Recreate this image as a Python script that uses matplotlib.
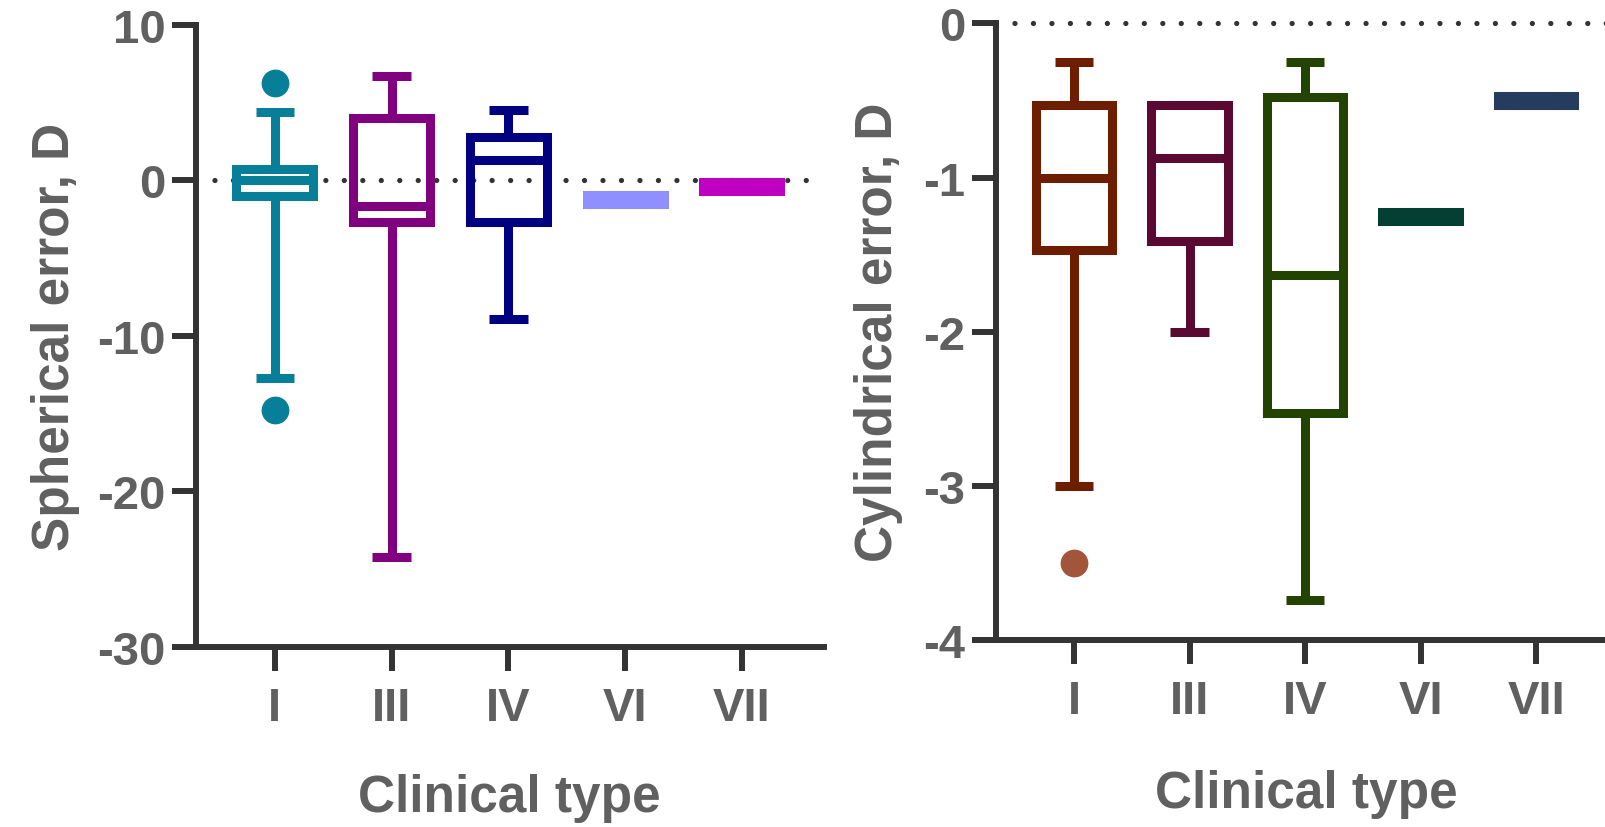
import matplotlib.pyplot as plt

plt.rcParams['font.family'] = ['Liberation Sans', 'DejaVu Sans']
plt.rcParams['axes.unicode_minus'] = False

types = ['I', 'III', 'IV', 'VI', 'VII']

# spherical error (D)
sph_whislo = [-12.7, -24.2, -8.95, -1.55, -0.7]
sph_q1 = [-1.0, -2.68, -2.68, -1.55, -0.7]
sph_med = [0.0, -1.66, 1.29, -1.25, -0.4]
sph_q3 = [0.7, 3.97, 2.8, -0.95, -0.1]
sph_whishi = [4.4, 6.7, 4.5, -0.95, -0.1]
sph_fliers = [[6.27, -14.75], [], [], [], []]
sph_colors = ['#077f99', '#800080', '#000080', '#8f8fff', '#c000c0']
sph_flier_colors = ['#077f99', '#800080', '#000080', '#8f8fff', '#c000c0']

# cylindrical error (D)
cyl_whislo = [-3.0, -2.0, -3.74, -1.28, -0.53]
cyl_q1 = [-1.47, -1.41, -2.53, -1.28, -0.53]
cyl_med = [-1.0, -0.87, -1.63, -1.25, -0.5]
cyl_q3 = [-0.53, -0.53, -0.475, -1.22, -0.47]
cyl_whishi = [-0.25, -0.53, -0.25, -1.22, -0.47]
cyl_fliers = [[-3.5], [], [], [], []]
cyl_colors = ['#6e1e00', '#5a0a32', '#234300', '#053f33', '#263c5e']
cyl_flier_colors = ['#a3553b', '#5a0a32', '#234300', '#053f33', '#263c5e']

TEXT = '#606060'
AXC = '#333333'
LW = 6.5


def draw(ax, whislo, q1, med, q3, whishi, fliers, colors, fcolors,
         ylim, yticks, ylabel, ylab_x, xlab_y):
    stats = []
    for i in range(len(types)):
        stats.append(dict(label=types[i], whislo=whislo[i], q1=q1[i], med=med[i],
                          q3=q3[i], whishi=whishi[i], fliers=fliers[i]))
    pos = list(range(1, len(types) + 1))

    # dotted reference line at zero
    ax.axhline(0, color=AXC, lw=3.8, ls=(0, (0.001, 3.5)),
               dash_capstyle='round', zorder=1, clip_on=False)

    art = ax.bxp(stats, positions=pos, widths=0.66, capwidths=0.33,
                 boxprops=dict(lw=LW, solid_joinstyle='miter'),
                 whiskerprops=dict(lw=LW, solid_capstyle='butt'),
                 capprops=dict(lw=LW, solid_capstyle='butt'),
                 medianprops=dict(lw=LW, solid_capstyle='butt'),
                 flierprops=dict(marker='o', markersize=20, markeredgewidth=0),
                 manage_ticks=False)
    for i, c in enumerate(colors):
        art['boxes'][i].set_color(c)
        art['medians'][i].set_color(c)
        for j in (2 * i, 2 * i + 1):
            art['whiskers'][j].set_color(c)
            art['caps'][j].set_color(c)
        art['fliers'][i].set_markerfacecolor(fcolors[i])
    for k in ('boxes', 'medians', 'whiskers', 'caps', 'fliers'):
        for a in art[k]:
            a.set_zorder(3)
            a.set_clip_on(False)

    ax.set_xlim(0.325, 5.7)
    ax.set_ylim(*ylim)
    ax.set_xticks(pos)
    ax.set_xticklabels(types)
    ax.set_yticks(yticks)
    ax.set_yticklabels([str(t) for t in yticks])

    for s in ('top', 'right'):
        ax.spines[s].set_visible(False)
    for s in ('left', 'bottom'):
        ax.spines[s].set_linewidth(4.3)
        ax.spines[s].set_color(AXC)
        ax.spines[s].set_capstyle('projecting')
    ax.tick_params(length=17, width=4.3, color=AXC,
                   labelsize=34, labelcolor=TEXT)
    ax.tick_params(axis='y', pad=5)
    ax.tick_params(axis='x', pad=11)
    for lab in ax.get_xticklabels() + ax.get_yticklabels():
        lab.set_fontweight('bold')

    ax.set_ylabel(ylabel, fontsize=37, fontweight='bold', color=TEXT)
    ax.yaxis.set_label_coords(ylab_x, 0.5)
    ax.set_xlabel('Clinical type', fontsize=37, fontweight='bold', color=TEXT)
    ax.xaxis.set_label_coords(0.5, xlab_y)


fig = plt.figure(figsize=(16.05, 8.28), dpi=100)
ax1 = fig.add_axes([0.12212, 0.21739, 0.39103, 0.75181])
ax2 = fig.add_axes([0.62056, 0.22585, 0.38692, 0.74457])

draw(ax1, sph_whislo, sph_q1, sph_med, sph_q3, sph_whishi, sph_fliers,
     sph_colors, sph_flier_colors, (-30, 10), [-30, -20, -10, 0, 10],
     'Spherical error, D', -0.185, -0.203)
draw(ax2, cyl_whislo, cyl_q1, cyl_med, cyl_q3, cyl_whishi, cyl_fliers,
     cyl_colors, cyl_flier_colors, (-4, 0), [-4, -3, -2, -1, 0],
     'Cylindrical error, D', -0.15, -0.21)

fig.savefig('out.png', dpi=100)
